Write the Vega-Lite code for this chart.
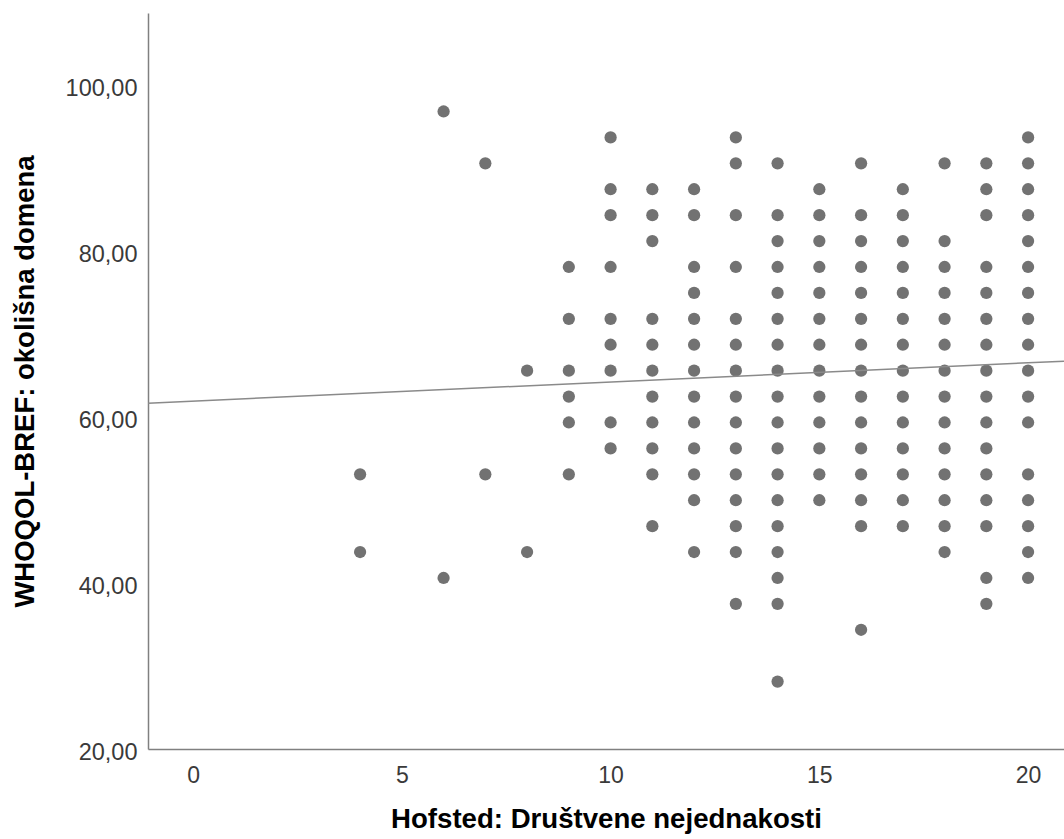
{
  "$schema": "https://vega.github.io/schema/vega-lite/v6.json",
  "width": 916,
  "height": 736,
  "autosize": {"type": "none"},
  "padding": {"left": 148, "top": 13, "right": 0, "bottom": 90},
  "background": "white",
  "config": {
    "view": {"stroke": null},
    "font": "Liberation Sans"
  },
  "datasets": {
    "pts": [
      {"h":4,"w":53.125},{"h":4,"w":43.75},
      {"h":6,"w":96.875},{"h":6,"w":40.625},
      {"h":7,"w":90.625},{"h":7,"w":53.125},
      {"h":8,"w":65.625},{"h":8,"w":43.75},
      {"h":9,"w":78.125},{"h":9,"w":71.875},{"h":9,"w":65.625},{"h":9,"w":62.5},{"h":9,"w":59.375},{"h":9,"w":53.125},
      {"h":10,"w":93.75},{"h":10,"w":87.5},{"h":10,"w":84.375},{"h":10,"w":78.125},{"h":10,"w":71.875},{"h":10,"w":68.75},{"h":10,"w":65.625},{"h":10,"w":59.375},{"h":10,"w":56.25},
      {"h":11,"w":87.5},{"h":11,"w":84.375},{"h":11,"w":81.25},{"h":11,"w":71.875},{"h":11,"w":68.75},{"h":11,"w":65.625},{"h":11,"w":62.5},{"h":11,"w":59.375},{"h":11,"w":56.25},{"h":11,"w":53.125},{"h":11,"w":46.875},
      {"h":12,"w":87.5},{"h":12,"w":84.375},{"h":12,"w":78.125},{"h":12,"w":75},{"h":12,"w":71.875},{"h":12,"w":68.75},{"h":12,"w":65.625},{"h":12,"w":62.5},{"h":12,"w":59.375},{"h":12,"w":56.25},{"h":12,"w":53.125},{"h":12,"w":50},{"h":12,"w":43.75},
      {"h":13,"w":93.75},{"h":13,"w":90.625},{"h":13,"w":84.375},{"h":13,"w":78.125},{"h":13,"w":71.875},{"h":13,"w":68.75},{"h":13,"w":65.625},{"h":13,"w":62.5},{"h":13,"w":59.375},{"h":13,"w":56.25},{"h":13,"w":53.125},{"h":13,"w":50},{"h":13,"w":46.875},{"h":13,"w":43.75},{"h":13,"w":37.5},
      {"h":14,"w":90.625},{"h":14,"w":84.375},{"h":14,"w":81.25},{"h":14,"w":78.125},{"h":14,"w":75},{"h":14,"w":71.875},{"h":14,"w":68.75},{"h":14,"w":65.625},{"h":14,"w":62.5},{"h":14,"w":59.375},{"h":14,"w":56.25},{"h":14,"w":53.125},{"h":14,"w":50},{"h":14,"w":46.875},{"h":14,"w":43.75},{"h":14,"w":40.625},{"h":14,"w":37.5},{"h":14,"w":28.125},
      {"h":15,"w":87.5},{"h":15,"w":84.375},{"h":15,"w":81.25},{"h":15,"w":78.125},{"h":15,"w":75},{"h":15,"w":71.875},{"h":15,"w":68.75},{"h":15,"w":65.625},{"h":15,"w":62.5},{"h":15,"w":59.375},{"h":15,"w":56.25},{"h":15,"w":53.125},{"h":15,"w":50},
      {"h":16,"w":90.625},{"h":16,"w":84.375},{"h":16,"w":81.25},{"h":16,"w":78.125},{"h":16,"w":75},{"h":16,"w":71.875},{"h":16,"w":68.75},{"h":16,"w":65.625},{"h":16,"w":62.5},{"h":16,"w":59.375},{"h":16,"w":56.25},{"h":16,"w":53.125},{"h":16,"w":50},{"h":16,"w":46.875},{"h":16,"w":34.375},
      {"h":17,"w":87.5},{"h":17,"w":84.375},{"h":17,"w":81.25},{"h":17,"w":78.125},{"h":17,"w":75},{"h":17,"w":71.875},{"h":17,"w":68.75},{"h":17,"w":65.625},{"h":17,"w":62.5},{"h":17,"w":59.375},{"h":17,"w":56.25},{"h":17,"w":53.125},{"h":17,"w":50},{"h":17,"w":46.875},
      {"h":18,"w":90.625},{"h":18,"w":81.25},{"h":18,"w":78.125},{"h":18,"w":75},{"h":18,"w":71.875},{"h":18,"w":68.75},{"h":18,"w":65.625},{"h":18,"w":62.5},{"h":18,"w":59.375},{"h":18,"w":56.25},{"h":18,"w":53.125},{"h":18,"w":50},{"h":18,"w":46.875},{"h":18,"w":43.75},
      {"h":19,"w":90.625},{"h":19,"w":87.5},{"h":19,"w":84.375},{"h":19,"w":78.125},{"h":19,"w":75},{"h":19,"w":71.875},{"h":19,"w":68.75},{"h":19,"w":65.625},{"h":19,"w":62.5},{"h":19,"w":59.375},{"h":19,"w":56.25},{"h":19,"w":53.125},{"h":19,"w":50},{"h":19,"w":46.875},{"h":19,"w":40.625},{"h":19,"w":37.5},
      {"h":20,"w":93.75},{"h":20,"w":90.625},{"h":20,"w":87.5},{"h":20,"w":84.375},{"h":20,"w":81.25},{"h":20,"w":78.125},{"h":20,"w":75},{"h":20,"w":71.875},{"h":20,"w":68.75},{"h":20,"w":65.625},{"h":20,"w":62.5},{"h":20,"w":59.375},{"h":20,"w":53.125},{"h":20,"w":50},{"h":20,"w":46.875},{"h":20,"w":43.75},{"h":20,"w":40.625}
    ],
    "fit": [
      {"h": -1.08, "w": 61.7},
      {"h": 20.86, "w": 66.77}
    ]
  },
  "encoding": {
    "x": {
      "field": "h",
      "type": "quantitative",
      "scale": {"domain": [-1.08, 20.86], "nice": false, "zero": false},
      "axis": {
        "title": "Hofsted: Društvene nejednakosti",
        "values": [0, 5, 10, 15, 20],
        "format": "d",
        "grid": false,
        "ticks": false,
        "tickSize": 0,
        "domainColor": "#808080",
        "domainWidth": 1.5,
        "labelFont": "Liberation Sans",
        "labelFontSize": 23,
        "labelColor": "#3a3a3a",
        "labelPadding": 15,
        "titleFont": "Liberation Sans",
        "titleFontSize": 27.6,
        "titleFontWeight": "bold",
        "titleColor": "#000000",
        "titleBaseline": "alphabetic",
        "titleY": 78
      }
    },
    "y": {
      "field": "w",
      "type": "quantitative",
      "scale": {"domain": [20, 108.75], "nice": false, "zero": false},
      "axis": {
        "title": "WHOQOL-BREF: okolišna domena",
        "values": [20, 40, 60, 80, 100],
        "labelExpr": "replace(format(datum.value, '.2f'), '.', ',')",
        "grid": false,
        "ticks": false,
        "tickSize": 0,
        "domainColor": "#808080",
        "domainWidth": 1.5,
        "labelFont": "Liberation Sans",
        "labelFontSize": 23.5,
        "labelColor": "#3a3a3a",
        "labelPadding": 11,
        "labelOffset": 3,
        "titleFont": "Liberation Sans",
        "titleFontSize": 27.5,
        "titleFontWeight": "bold",
        "titleColor": "#000000",
        "titleBaseline": "alphabetic",
        "titleX": -115
      }
    }
  },
  "layer": [
    {
      "data": {"name": "pts"},
      "mark": {"type": "circle", "size": 150, "color": "#727272", "opacity": 1}
    },
    {
      "data": {"name": "fit"},
      "mark": {"type": "line", "color": "#8a8a8a", "strokeWidth": 1.5, "clip": true}
    }
  ]
}
